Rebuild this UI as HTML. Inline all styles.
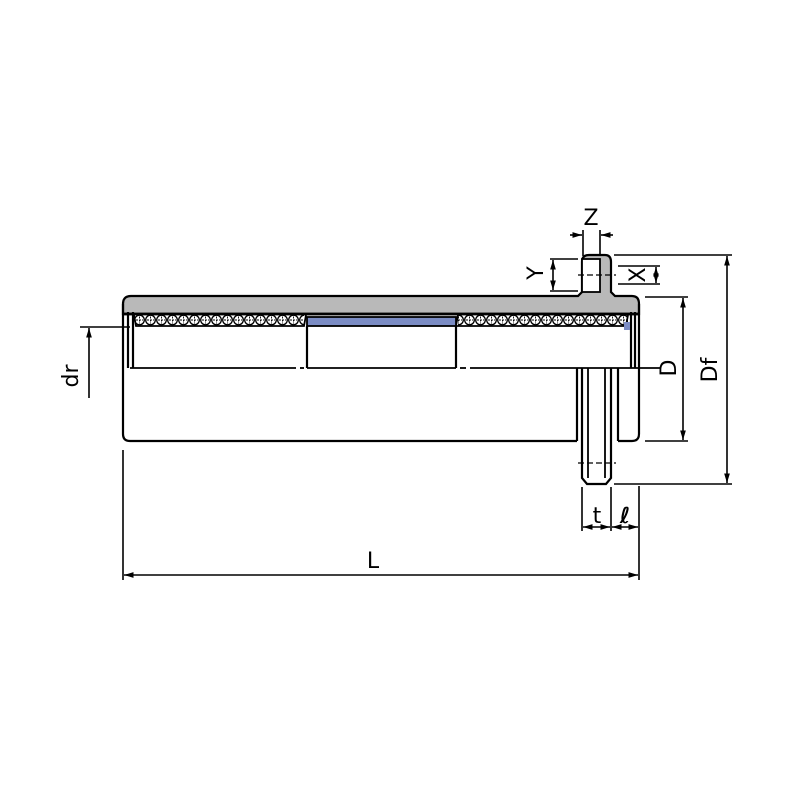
<!DOCTYPE html>
<html><head><style>body{margin:0;background:#fff}svg{display:block}</style></head><body>
<svg width="800" height="800" viewBox="0 0 800 800" xmlns="http://www.w3.org/2000/svg" font-family="DejaVu Sans, sans-serif">
<defs>
<marker id="a" viewBox="0 0 10 10" refX="10" refY="5" markerWidth="6" markerHeight="6" orient="auto-start-reverse"><path d="M0,2 L10,5 L0,8 Z" fill="#000" stroke="none"/></marker>
<pattern id="balls" x="134" y="314" width="11" height="12" patternUnits="userSpaceOnUse">
<circle cx="5.5" cy="6" r="4.8" fill="#fff" stroke="#000" stroke-width="1.3"/>
<path d="M5.5,2.5V9.5M2,6H9" stroke="#000" stroke-width="0.9" stroke-dasharray="2 1"/>
</pattern>
</defs>
<g stroke="#000" stroke-width="2.2" fill="none">
<path d="M123,304 Q123,296 131,296 L578,296 L582,292 L582,262 Q582,255 589,255 L605,255 Q611,255 611,262 L611,292 L615,296 L632,296 Q639,296 639,304 L639,314 L123,314 Z" fill="#b9b9b9"/>
<rect x="582" y="259" width="18" height="33" fill="#fff" stroke-width="1.8"/>
<rect x="134" y="314" width="170" height="12" fill="url(#balls)" stroke="none"/>
<rect x="458" y="314" width="170" height="12" fill="url(#balls)" stroke="none"/>
<path d="M134,315 L136,326 L304,326 L306,315" stroke-width="1.8"/>
<path d="M458,315 L456,326 L626,326 L628,315" stroke-width="1.8"/>
<rect x="307" y="317" width="149" height="9" fill="#7b8cc4" stroke-width="1.8"/>
<path d="M123,304 L123,434 Q123,441 130,441 L577,441"/>
<path d="M639,304 L639,434 Q639,441 632,441 L618,441"/>
<line x1="123" y1="314" x2="639" y2="314" stroke-width="2.8"/>
<line x1="128" y1="312" x2="128" y2="368"/>
<line x1="133" y1="312" x2="133" y2="368"/>
<line x1="631" y1="312" x2="631" y2="368"/>
<line x1="635" y1="312" x2="635" y2="368"/>
<rect x="624" y="322" width="6" height="8" fill="#7b8cc4" stroke="none"/>
<line x1="307" y1="326" x2="307" y2="368"/>
<line x1="456" y1="326" x2="456" y2="368"/>
<line x1="130" y1="368" x2="296" y2="368" stroke-width="1.8"/>
<line x1="300" y1="368" x2="304" y2="368" stroke-width="1.8"/>
<line x1="307" y1="368" x2="456" y2="368" stroke-width="1.8"/>
<line x1="460" y1="368" x2="466" y2="368" stroke-width="1.8"/>
<line x1="470" y1="368" x2="660" y2="368" stroke-width="1.8"/>
<line x1="577" y1="368" x2="577" y2="441"/>
<line x1="618" y1="368" x2="618" y2="441"/>
<path d="M582,368 L582,478 L587,484 L606,484 L611,478 L611,368"/>
<line x1="588" y1="368" x2="588" y2="478" stroke-width="1.8"/>
<line x1="605" y1="368" x2="605" y2="478" stroke-width="1.8"/>
<line x1="578" y1="463" x2="616" y2="463" stroke-width="1.2" stroke-dasharray="6 3"/>
<line x1="578" y1="275" x2="616" y2="275" stroke-width="1.2" stroke-dasharray="6 3"/>
</g>
<g stroke="#000" stroke-width="1.6" fill="none">
<line x1="123" y1="450" x2="123" y2="580"/><line x1="639" y1="486" x2="639" y2="580"/>
<line x1="124" y1="575" x2="638" y2="575" marker-start="url(#a)" marker-end="url(#a)"/>
<line x1="582" y1="487" x2="582" y2="531"/><line x1="611" y1="487" x2="611" y2="531"/>
<line x1="583" y1="527" x2="610" y2="527" marker-start="url(#a)" marker-end="url(#a)"/>
<line x1="612" y1="527" x2="638" y2="527" marker-start="url(#a)" marker-end="url(#a)"/>
<line x1="645" y1="297" x2="688" y2="297"/><line x1="645" y1="441" x2="688" y2="441"/>
<line x1="683" y1="298" x2="683" y2="440" marker-start="url(#a)" marker-end="url(#a)"/>
<line x1="614" y1="255" x2="732" y2="255"/><line x1="614" y1="484" x2="732" y2="484"/>
<line x1="727" y1="256" x2="727" y2="483" marker-start="url(#a)" marker-end="url(#a)"/>
<line x1="80" y1="327" x2="130" y2="327"/>
<line x1="89" y1="328" x2="89" y2="398" marker-start="url(#a)"/>
<line x1="550" y1="259" x2="578" y2="259"/><line x1="550" y1="291" x2="578" y2="291"/>
<line x1="553" y1="260" x2="553" y2="290" marker-start="url(#a)" marker-end="url(#a)"/>
<line x1="618" y1="266" x2="660" y2="266"/><line x1="618" y1="284" x2="660" y2="284"/>
<line x1="656" y1="267" x2="656" y2="283" marker-start="url(#a)" marker-end="url(#a)"/>
<line x1="583" y1="230" x2="583" y2="256"/><line x1="600" y1="230" x2="600" y2="256"/>
<line x1="570" y1="235" x2="582" y2="235" marker-end="url(#a)"/>
<line x1="613" y1="235" x2="601" y2="235" marker-end="url(#a)"/>
</g>
<g font-size="22" fill="#000" text-anchor="middle">
<text x="373" y="568">L</text>
<text x="597" y="523">t</text>
<text x="625" y="523" font-style="italic" font-weight="bold">ℓ</text>
<text x="591" y="225">Z</text>
<text transform="translate(676,368) rotate(-90)">D</text>
<text transform="translate(717,370) rotate(-90)">Df</text>
<text transform="translate(78,376) rotate(-90)">dr</text>
<text transform="translate(543,273) rotate(-90)">Y</text>
<text transform="translate(645,275) rotate(-90)">X</text>
</g>
</svg>
</body></html>
